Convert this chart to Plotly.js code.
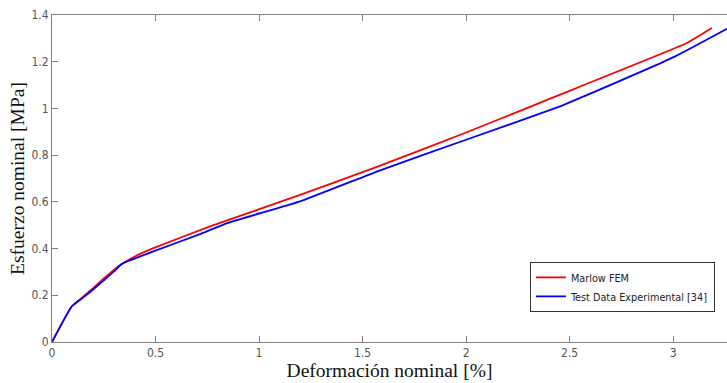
<!DOCTYPE html>
<html>
<head>
<meta charset="utf-8">
<script src="https://cdn.plot.ly/plotly-3.0.1.min.js"></script>
<style>html,body{margin:0;padding:0;background:#fff;}#chart{width:727px;height:383px;}</style>
</head>
<body>
<div id="chart"></div>
<script>
const seriesNames = ["Marlow FEM", "Test Data Experimental [34]"];
const marlowX = [0, 0.095, 0.15, 0.2, 0.25, 0.3, 0.337, 0.42, 0.49, 0.763, 1.198, 1.585, 2.0, 2.454, 2.551, 3.066, 3.187];
const marlowY = [0, 0.152, 0.194, 0.232, 0.272, 0.31, 0.334, 0.375, 0.402, 0.495, 0.630, 0.755, 0.897, 1.059, 1.094, 1.280, 1.344];
const testX = [0, 0.095, 0.15, 0.2, 0.25, 0.3, 0.337, 0.49, 0.715, 0.85, 1.198, 1.585, 2.0, 2.454, 2.551, 3.01, 3.26];
const testY = [0, 0.152, 0.19, 0.226, 0.264, 0.302, 0.334, 0.388, 0.462, 0.51, 0.602, 0.735, 0.866, 1.009, 1.045, 1.223, 1.341];
const xTicks = [0, 0.5, 1, 1.5, 2, 2.5, 3];
const yTicks = [0, 0.2, 0.4, 0.6, 0.8, 1, 1.2, 1.4];
const xTitle = "Deformación nominal [%]";
const yTitle = "Esfuerzo nominal [MPa]";

const narrow = "DejaVu Sans Condensed, Liberation Sans Narrow, Arial Narrow, sans-serif";
const tickFont = {family: narrow, size: 12, color: "#555"};
const titleFont = {family: "Liberation Serif, Times New Roman, serif", size: 19.5, color: "#111"};

const data = [
  {x: marlowX, y: marlowY, type: "scatter", mode: "lines", name: seriesNames[0], line: {color: "#ff0000", width: 1.8, shape: "spline", smoothing: 0.4}},
  {x: testX, y: testY, type: "scatter", mode: "lines", name: seriesNames[1], line: {color: "#0000ff", width: 1.8, shape: "spline", smoothing: 0.4}}
];

const layout = {
  width: 727, height: 383,
  margin: {l: 52, r: 0, t: 15, b: 41},
  paper_bgcolor: "#fff", plot_bgcolor: "#fff",
  showlegend: true,
  legend: {x: 0.708, y: 0.245, xanchor: "left", yanchor: "top", bgcolor: "#fff", bordercolor: "#333", borderwidth: 1,
           font: {family: narrow, size: 10.8, color: "#222"},
           tracegroupgap: 0, itemwidth: 30},
  xaxis: {range: [0, 3.26], tickvals: xTicks, ticktext: xTicks.map(String), showgrid: false, zeroline: false,
          showline: true, linecolor: "#808080", linewidth: 1, mirror: "ticks",
          ticks: "inside", ticklen: 6, tickcolor: "#808080", tickfont: tickFont,
          title: {text: xTitle, font: titleFont, standoff: 2}},
  yaxis: {range: [0, 1.4], tickvals: yTicks, ticktext: yTicks.map(String), showgrid: false, zeroline: false,
          showline: true, linecolor: "#808080", linewidth: 1,
          ticks: "inside", ticklen: 6, tickcolor: "#808080", tickfont: tickFont,
          title: {text: yTitle, font: titleFont, standoff: 1}}
};

Plotly.newPlot("chart", data, layout, {displayModeBar: false, staticPlot: true});
</script>
</body>
</html>
